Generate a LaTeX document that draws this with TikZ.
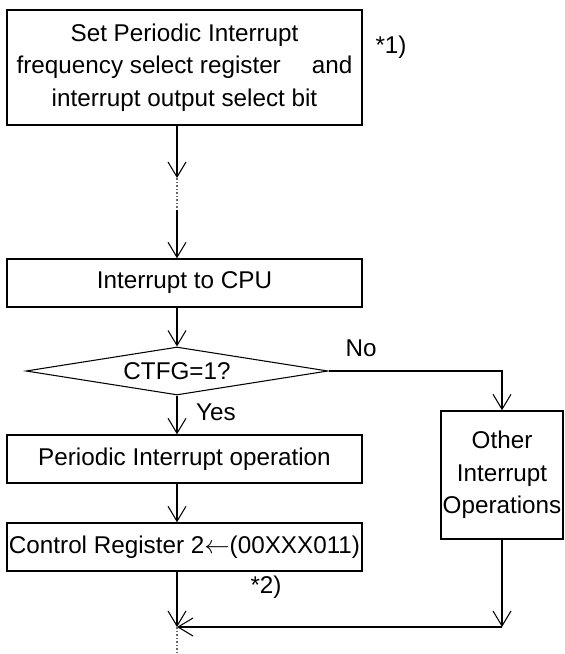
\documentclass[tikz,border=0pt]{standalone}
\usepackage{fontspec}
\setmainfont{Liberation Sans}
\usetikzlibrary{arrows.meta,shapes.geometric}
\tikzset{
  flowbox/.style={draw,line width=0.8pt,minimum width=7.1cm,minimum height=0.96cm,
    inner sep=0pt,align=center},
  decide/.style={draw,diamond,aspect=6.3,line width=0.6pt,inner sep=0pt,
    minimum width=6.04cm,minimum height=0.96cm},
  flowline/.style={line width=0.6pt},
  flowarr/.style={flowline,-{Straight Barb[length=0.3cm,width=0.36cm]}},
  gapline/.style={black!60,line width=0.8pt,dash pattern=on 1pt off 1pt}
}
\begin{document}
\begin{tikzpicture}[font=\fontsize{13.8}{18.5}\selectfont]
  \useasboundingbox (0,0) rectangle (11.3,-13.08);
  % main column
  \node[flowbox,minimum height=2.3cm] (setreg) at (3.69,-1.35)
    {Set Periodic Interrupt\\frequency select register\quad\ and\\interrupt output select bit};
  \node (note1) at (7.82,-0.94) {*1)};
  \node[flowbox] (tocpu) at (3.69,-5.66) {Interrupt to CPU};
  \node[decide] (ctfg) at (3.54,-7.42) {CTFG=1?};
  \node[flowbox] (periodic) at (3.69,-9.18) {Periodic Interrupt operation};
  \node[flowbox] (control) at (3.69,-10.94) {Control Register 2$\leftarrow$(00XXX011)};
  \node[draw,line width=0.8pt,minimum width=2.44cm,minimum height=2.56cm,inner sep=0pt,
    align=center] (other) at (10.04,-9.5) {Other\\Interrupt\\Operations};
  \node (nolabel) at (7.22,-6.96) {No};
  \node[anchor=west] (yeslabel) at (3.8,-8.24) {Yes};
  \node (note2) at (5.32,-11.74) {*2)};
  \coordinate (gaptop) at (3.54,-3.56);
  \coordinate (gapbot) at (3.54,-4.2);
  \coordinate (merge) at (3.54,-12.54);
  \coordinate (endgap) at (3.54,-13.08);
  % connectors
  \draw[flowarr] (setreg.south -| gaptop) -- (gaptop);
  \draw[gapline] (gaptop) -- (gapbot);
  \draw[flowarr] (gapbot) -- (gapbot |- tocpu.north);
  \draw[flowarr] (tocpu.south -| ctfg.north) -- (ctfg.north);
  \draw[flowarr] (ctfg.south) -- (ctfg.south |- periodic.north);
  \draw[flowarr] (periodic.south -| ctfg.south) -- (ctfg.south |- control.north);
  \draw[flowarr] (ctfg.east) -| (other.north);
  \draw[flowarr] (control.south -| merge) -- (merge);
  \draw[flowarr] (other.south) -- (other.south |- merge);
  \draw[flowarr] (other.south |- merge) -- (merge);
  \draw[gapline] (merge) -- (endgap);
\end{tikzpicture}
\end{document}
